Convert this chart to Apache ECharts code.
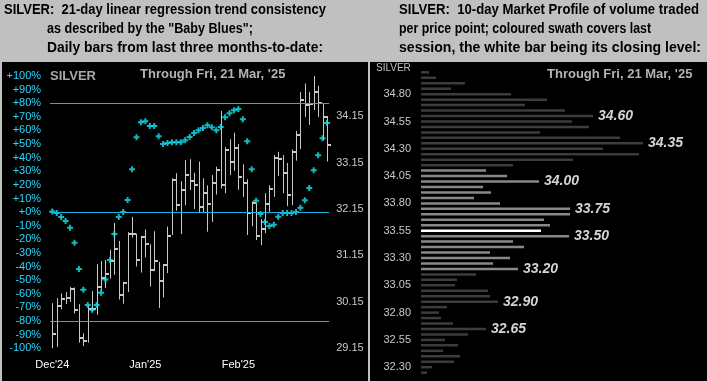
<!DOCTYPE html>
<html><head><meta charset="utf-8">
<script src="https://cdn.jsdelivr.net/npm/echarts@6/dist/echarts.min.js"></script>
<style>
html,body{margin:0;padding:0;background:#c0c0c0;}
#wrap{position:relative;width:707px;height:381px;background:#c0c0c0;overflow:hidden;}
.panel{position:absolute;background:#000;}
#c{position:absolute;left:0;top:0;width:707px;height:381px;}
</style>
</head><body>
<div id="wrap">
  <div class="panel" style="left:2px;top:62px;width:366px;height:319px"></div>
  <div class="panel" style="left:370px;top:62px;width:337px;height:319px"></div>
  <div id="c"></div>
</div>
<script>
// ---------- Left chart data: daily HLC bars (price) ----------
const highs = [30.12,30.23,30.33,30.36,30.47,30.46,30.10,29.47,30.08,30.38,
  30.96,31.03,31.05,31.27,31.85,31.46,30.58,31.65,31.98,31.62,
  31.57,31.71,31.39,31.67,31.01,30.96,31.77,32.81,32.92,32.75,
  33.20,33.22,32.93,33.17,32.81,32.66,32.88,33.06,34.26,33.48,
  33.65,33.79,33.55,33.11,32.79,32.31,32.27,31.93,32.49,32.66,
  33.31,33.38,33.31,33.14,33.43,33.83,34.67,34.85,34.67,35.01,
  34.80,34.42,34.15];
const lows = [29.15,29.18,29.99,30.10,30.15,29.90,29.27,29.20,29.27,29.94,
  29.87,30.40,30.45,30.65,30.73,30.20,30.11,30.36,31.53,30.91,
  30.78,31.11,30.48,30.81,30.02,30.24,30.77,31.59,32.11,31.61,
  32.23,32.56,32.15,32.06,32.06,31.66,31.87,32.46,32.59,32.49,
  32.88,32.97,32.56,32.41,31.59,31.78,31.48,31.37,31.63,32.09,
  32.41,32.86,32.49,32.21,32.23,33.19,33.44,34.13,33.96,34.28,
  34.13,33.63,33.17];
const closes = [29.46,30.06,30.22,30.24,30.42,29.98,29.38,29.30,29.99,29.99,
  30.48,30.67,30.75,31.03,31.29,30.30,30.56,31.60,31.62,31.06,
  31.55,31.40,30.84,31.03,30.59,30.95,31.57,32.77,32.23,32.56,
  32.88,32.76,32.66,32.20,32.50,32.26,32.71,32.99,32.66,33.42,
  33.15,33.47,32.84,32.71,32.07,32.27,31.57,31.71,32.26,32.59,
  33.25,33.22,32.93,32.45,33.38,33.74,34.49,34.39,34.41,34.67,
  34.44,34.12,33.53];
// "Baby Blues" trend consistency (%)
const babyBlues = [0.5,-0.6,-3.5,-6.5,-11.5,-22.5,-41.8,-57.0,-68.2,-71.7,
  -68.2,-59.2,-49.5,-35.2,-16.0,-3.5,0.1,9.0,31.5,55.0,
  66.0,66.8,63.3,63.3,55.8,50.1,50.8,51.4,51.4,51.4,
  52.8,55.2,58.2,60.2,61.8,63.8,62.4,60.2,62.6,69.7,
  72.6,74.8,75.8,68.2,52.1,31.5,8.3,-1.3,-7.2,-10.1,
  -9.3,-3.4,-0.7,-0.7,-0.7,0.2,3.2,8.8,17.8,30.8,
  41.8,54.3,65.5];
const monthIndex = [0, 21, 42];
const monthNames = ["Dec'24", "Jan'25", "Feb'25"];
const priceTicks = [29.15, 30.15, 31.15, 32.15, 33.15, 34.15];
const bbLevels = [80, 0, -80];

// ---------- Right chart data: market profile ----------
const profilePrices = [35.00,34.95,34.90,34.85,34.80,34.75,34.70,34.65,34.60,34.55,
  34.50,34.45,34.40,34.35,34.30,34.25,34.20,34.15,34.10,34.05,
  34.00,33.95,33.90,33.85,33.80,33.75,33.70,33.65,33.60,33.55,
  33.50,33.45,33.40,33.35,33.30,33.25,33.20,33.15,33.10,33.05,
  33.00,32.95,32.90,32.85,32.80,32.75,32.70,32.65,32.60,32.55,
  32.50,32.45,32.40,32.35,32.30,32.25];
const profileVolume = [8,15,44,30,90,126,104,144,172,151,
  168,119,199,222,182,218,152,92,65,86,
  118,62,70,53,79,149,149,123,129,120,
  148,92,103,69,89,72,97,55,36,34,
  67,69,77,26,18,20,32,65,47,24,
  37,22,39,33,11,6];
const labelledPrices = [34.60, 34.35, 34.00, 33.75, 33.50, 33.20, 32.90, 32.65];
const swathLow = 33.20, swathHigh = 34.10, lastClose = 33.55;

const cats = highs.map((_, i) => monthIndex.includes(i) ? monthNames[monthIndex.indexOf(i)] : '');
const hlc = highs.map((h, i) => [i, h, lows[i], closes[i]]);

const cyanLabel = '#2bd6ff';
const blueLine = '#1fb0e4';
const dotColor = '#14e8f2';
const barGray = '#c8c8c8';
const base = '"Liberation Sans", Arial, sans-serif';
const headFont = 'bold 15px ' + base;

function profileColor(p) {
  if (Math.abs(p - lastClose) < 0.001) return '#ffffff';
  if (p >= swathLow - 0.001 && p <= swathHigh + 0.001) return '#888888';
  return '#3c3c3c';
}

const profileData = profileVolume.map((v, i) => {
  const p = profilePrices[i];
  const item = { value: v, itemStyle: { color: profileColor(p) } };
  if (labelledPrices.some(q => Math.abs(q - p) < 0.001)) {
    item.label = {
      show: true, position: 'right', distance: 5,
      formatter: p.toFixed(2), color: '#d4d4d4',
      fontSize: 14, fontWeight: 'bold', fontStyle: 'italic', fontFamily: base
    };
  }
  return item;
});

// condensed header text: each line squeezed horizontally to its width in the reference
const measureCtx = document.createElement('canvas').getContext('2d');
measureCtx.font = headFont;
const header = (text, x, y, targetW) => {
  const w = measureCtx.measureText(text).width || targetW;
  return {
    type: 'text', x: x, y: y, scaleX: targetW / w,
    style: { text: text, fill: '#000', font: headFont, verticalAlign: 'middle', align: 'left' }
  };
};

const chart = echarts.init(document.getElementById('c'), null, { renderer: 'canvas' });
chart.setOption({
  backgroundColor: 'transparent',
  animation: false,
  graphic: [
    header('SILVER:  21-day linear regression trend consistency', 4, 10, 322),
    header('as described by the "Baby Blues";', 47, 29, 206),
    header('Daily bars from last three months-to-date:', 47, 48, 276),
    header('SILVER:  10-day Market Profile of volume traded', 399, 10, 300),
    header('per price point; coloured swath covers last', 399, 29, 252),
    header('session, the white bar being its closing level:', 399, 48, 302),
    { type: 'text', x: 50, y: 76, style: { text: 'SILVER', fill: '#a8a8a8', font: 'bold 13px ' + base, verticalAlign: 'middle' } },
    { type: 'text', x: 140, y: 74, style: { text: "Through Fri, 21 Mar, '25", fill: '#b4b4b4', font: 'bold 13px ' + base, verticalAlign: 'middle' } },
    { type: 'text', x: 376, y: 68, style: { text: 'SILVER', fill: '#c0c0c0', font: '10px ' + base, verticalAlign: 'middle' } },
    { type: 'text', x: 547, y: 74, style: { text: "Through Fri, 21 Mar, '25", fill: '#b4b4b4', font: 'bold 13px ' + base, verticalAlign: 'middle' } }
  ],
  grid: [
    { left: 50.1, top: 76, width: 279.1, height: 272.3 },
    { left: 421, top: 69.6, width: 280, height: 305.8 }
  ],
  xAxis: [
    {
      gridIndex: 0, type: 'category', data: cats, boundaryGap: true,
      axisLine: { show: false }, axisTick: { show: false }, splitLine: { show: false },
      axisLabel: { interval: (i) => monthIndex.includes(i), color: '#ffffff', fontSize: 11, fontFamily: base, margin: 11 }
    },
    { gridIndex: 1, type: 'value', min: 0, max: 280, show: false }
  ],
  yAxis: [
    {
      gridIndex: 0, type: 'value', min: -100, max: 100, interval: 10, position: 'left',
      axisLine: { show: false }, axisTick: { show: false }, splitLine: { show: false },
      axisLabel: { color: cyanLabel, fontSize: 11, fontFamily: base, margin: 9,
        formatter: v => (v >= 0 ? '+' : '') + v + '%' }
    },
    {
      gridIndex: 0, type: 'value', min: 29.15, max: 35.012, position: 'right',
      axisLine: { show: false }, axisTick: { show: false }, splitLine: { show: false },
      axisLabel: { customValues: priceTicks, color: '#c8c8c8', fontSize: 11, fontFamily: base, margin: 7,
        formatter: v => Number(v).toFixed(2) }
    },
    {
      gridIndex: 1, type: 'category', inverse: true,
      data: profilePrices.map(p => p.toFixed(2)),
      axisLine: { show: false }, axisTick: { show: false }, splitLine: { show: false },
      axisLabel: {
        interval: (i, v) => Math.round(parseFloat(v) * 100) % 25 === 5,
        color: '#c8c8c8', fontSize: 11, fontFamily: base, margin: 10
      }
    }
  ],
  series: [
    {
      type: 'custom', xAxisIndex: 0, yAxisIndex: 1, data: hlc,
      encode: { x: 0, y: [1, 2, 3] }, silent: true, z: 3,
      renderItem: function (params, api) {
        const i = api.value(0);
        const hi = api.coord([i, api.value(1)]);
        const lo = api.coord([i, api.value(2)]);
        const cl = api.coord([i, api.value(3)]);
        const px = Math.round(hi[0]) + 0.5;
        const cy = Math.round(cl[1]);
        return {
          type: 'group', children: [
            { type: 'line', shape: { x1: px, y1: hi[1], x2: px, y2: lo[1] }, style: { stroke: barGray, lineWidth: 1 } },
            { type: 'rect', shape: { x: px - 0.5, y: cy - 1, width: 4, height: 2 }, style: { fill: barGray } }
          ]
        };
      }
    },
    {
      type: 'scatter', xAxisIndex: 0, yAxisIndex: 0, data: babyBlues, z: 4,
      symbol: 'path://M2,0H4V2H6V4H4V6H2V4H0V2H2Z', symbolSize: 6,
      itemStyle: { color: dotColor }, silent: true,
      markLine: {
        silent: true, symbol: ['none', 'none'], label: { show: false },
        lineStyle: { color: blueLine, width: 1, type: 'solid' },
        data: bbLevels.map(v => ({ yAxis: v }))
      }
    },
    {
      type: 'bar', xAxisIndex: 1, yAxisIndex: 2, data: profileData,
      barWidth: 2.5, silent: true
    }
  ]
});
</script>
</body></html>
